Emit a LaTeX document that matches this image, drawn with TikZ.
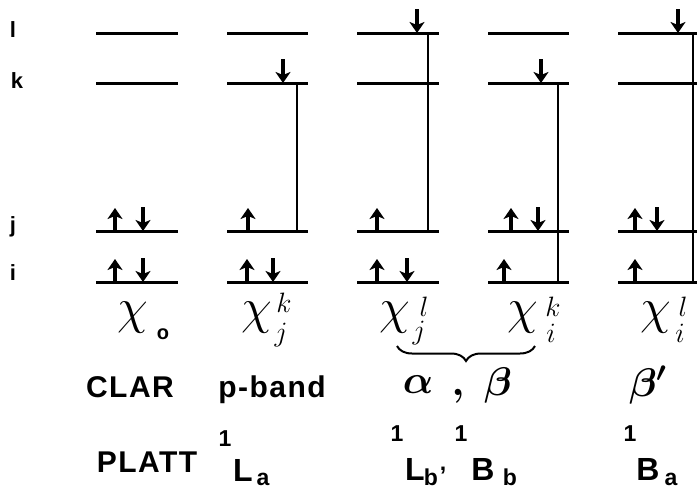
\RequirePackage{fix-cm}
\documentclass[tikz,border=0pt]{standalone}
\usepackage{amsmath}
\usepackage{fontspec}
\setmainfont{Liberation Sans}
\usetikzlibrary{arrows.meta,decorations.pathreplacing}
\newcommand\spinup[3]{\coordinate (#1s) at (#2,#3); \coordinate (#1e) at (#2,#3-23); \draw[spin] (#1s) -- (#1e);}
\newcommand\spindn[3]{\coordinate (#1s) at (#2,#3-24); \coordinate (#1e) at (#2,#3); \draw[spin] (#1s) -- (#1e);}
\begin{document}
\begin{tikzpicture}[x=1pt,y=-1pt,
  level/.style={line width=3pt},
  vline/.style={line width=2pt},
  spin/.style={line width=3.4pt,-{Stealth[length=11pt,width=15pt,inset=3pt]}},
  lvlab/.style={inner sep=0pt,font=\fontsize{22}{22}\selectfont\bfseries},
  rowlab/.style={inner sep=0pt,anchor=base,font=\fontsize{30}{30}\selectfont\bfseries\addfontfeatures{LetterSpace=5}},
  chi/.style={inner sep=0pt,font=\fontsize{50}{50}\selectfont},
  idx/.style={inner sep=0pt,font=\fontsize{28}{28}\selectfont},
  subo/.style={inner sep=0pt,font=\fontsize{20}{20}\selectfont\bfseries},
  big/.style={inner sep=0pt,anchor=base,font=\fontsize{32}{32}\selectfont\bfseries},
  small/.style={inner sep=0pt,anchor=base,font=\fontsize{23}{23}\selectfont\bfseries},
  greek/.style={inner sep=0pt,font=\fontsize{40}{40}\selectfont}]
\useasboundingbox[fill=white] (0,0) rectangle (697,490);
% level labels
\node[lvlab] (nl) at (13,30) {l};
\node[lvlab] (nk) at (17,81) {k};
\node[lvlab] (nj) at (13,227) {j};
\node[lvlab] (ni) at (13,273) {i};
% levels
\foreach \c/\xa/\xb in {1/96/178,2/227/308,3/357/439,4/488/569,5/618/697}{
  \foreach \n/\y in {l/33,k/83,j/231,i/282}{
    \coordinate (L\c\n a) at (\xa,\y);
    \coordinate (L\c\n b) at (\xb,\y);
    \draw[level] (L\c\n a) -- (L\c\n b);
  }}
% excitation connectors
\coordinate (V2t) at (297,83);  \coordinate (V2b) at (297,231);
\coordinate (V3t) at (428,33);  \coordinate (V3b) at (428,231);
\coordinate (V4t) at (558,83);  \coordinate (V4b) at (558,282);
\coordinate (V5t) at (693,33);  \coordinate (V5b) at (693,282);
\draw[vline] (V2t) -- (V2b);
\draw[vline] (V3t) -- (V3b);
\draw[vline] (V4t) -- (V4b);
\draw[vline] (V5t) -- (V5b);
% spins
\spinup{a1}{115}{231} \spindn{a2}{143}{231}
\spinup{a3}{115}{282} \spindn{a4}{143}{282}
\spindn{b1}{283}{83} \spinup{b2}{248}{231}
\spinup{b3}{247}{282} \spindn{b4}{273}{282}
\spindn{c1}{417}{33} \spinup{c2}{377}{231}
\spinup{c3}{377}{282} \spindn{c4}{407}{282}
\spindn{d1}{541}{83} \spinup{d2}{511}{231} \spindn{d3}{538}{231}
\spinup{d4}{504}{282}
\spindn{e1}{678}{33} \spinup{e2}{635}{231} \spindn{e3}{657}{231}
\spinup{e4}{635}{282}
% configuration labels
\node[chi] (x0) at (133,318) {$\chi$};
\node[subo] (x0s) at (163,334) {o};
\node[chi] (x1) at (257,318) {$\chi$};
\node[idx] (x1u) at (284,303) {$k$};
\node[idx] (x1d) at (281,335) {$j$};
\node[chi] (x2) at (395,318) {$\chi$};
\node[idx] (x2u) at (424,307) {$l$};
\node[idx] (x2d) at (419,333) {$j$};
\node[chi] (x3) at (523,318) {$\chi$};
\node[idx] (x3u) at (553,307) {$k$};
\node[idx] (x3d) at (551,333) {$i$};
\node[chi] (x4) at (656,318) {$\chi$};
\node[idx] (x4u) at (683,307) {$l$};
\node[idx] (x4d) at (680,333) {$i$};
\coordinate (br1) at (397,346);
\coordinate (br2) at (535,346);
\draw[line width=2pt,decorate,decoration={brace,mirror,amplitude=15pt}] (br1) -- (br2);
% CLAR row
\node[rowlab] (clar) at (130,397) {CLAR};
\node[rowlab] (pband) at (272,397) {p-band};
\node[greek] (alpha) at (418,385) {$\boldsymbol{\alpha}$};
\node[greek] (comma) at (458,396) {$\boldsymbol{,}$};
\node[greek] (beta) at (498,385) {$\boldsymbol{\beta}$};
\node[greek] (betap) at (648,385) {$\boldsymbol{\beta'}$};
% PLATT row
\node[rowlab] (platt) at (147,472) {PLATT};
\node[small] (p1a) at (225,446) {1};
\node[big] (p1b) at (243,481) {L};
\node[small] (p1c) at (263,485) {a};
\node[small] (p2a) at (397,441) {1};
\node[big] (p2b) at (415,480) {L};
\node[small] (p2c) at (431,485) {b};
\node[small] (p2d) at (443,470) {,};
\node[small] (p3a) at (461,441) {1};
\node[big] (p3b) at (483,480) {B};
\node[small] (p3c) at (510,485) {b};
\node[small] (p4a) at (630,441) {1};
\node[big] (p4b) at (648,480) {B};
\node[small] (p4c) at (671,485) {a};
\end{tikzpicture}
\end{document}
